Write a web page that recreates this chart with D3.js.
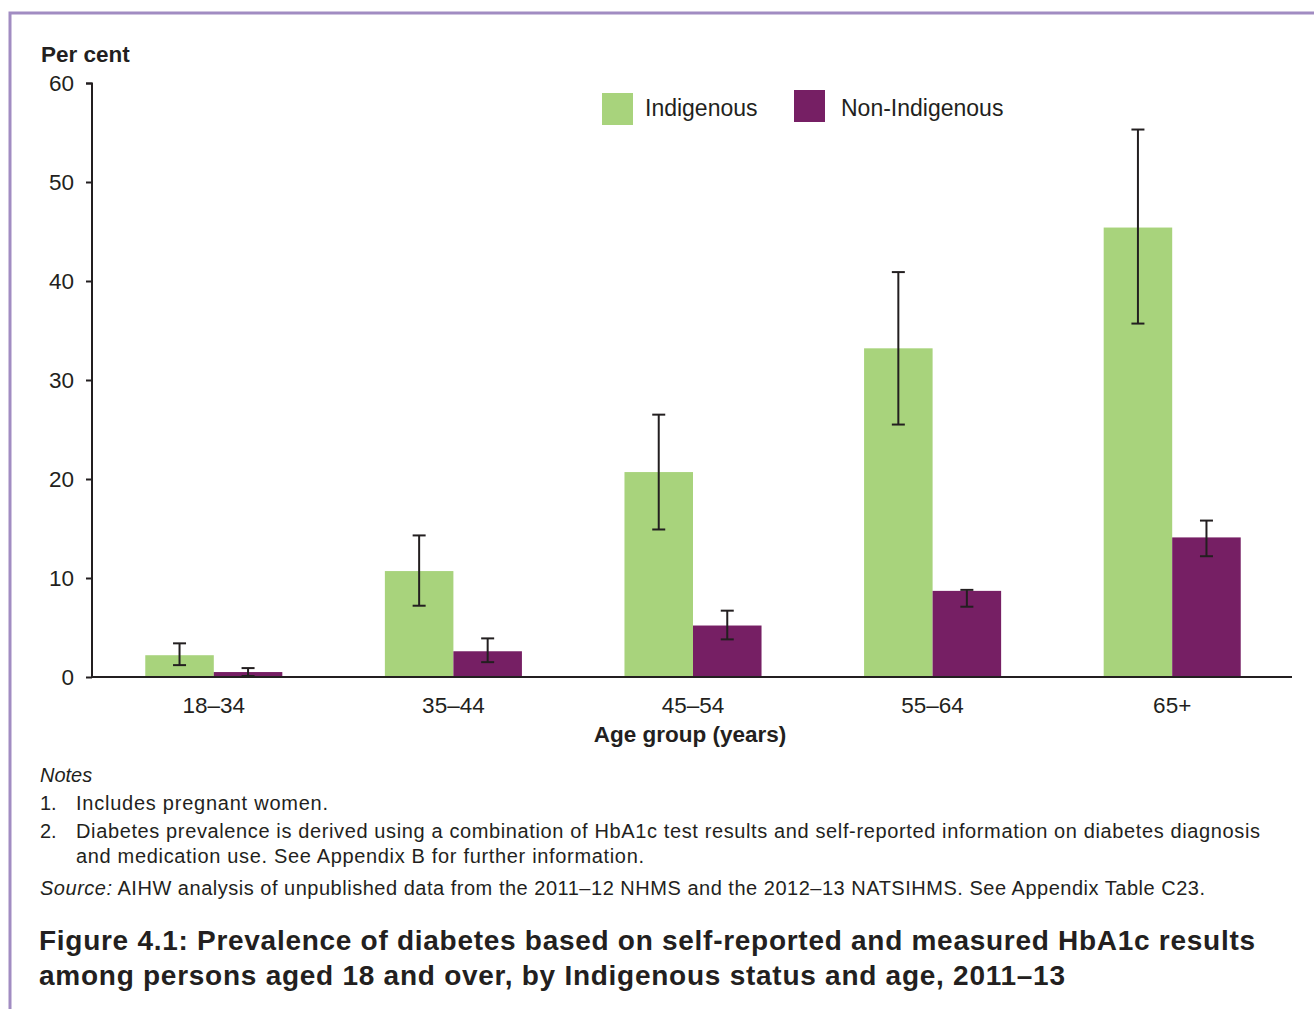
<!DOCTYPE html>
<html>
<head>
<meta charset="utf-8">
<script src="https://cdn.jsdelivr.net/npm/d3@7"></script>
<style>
  body { margin: 0; background: #fff; }
  text { font-family: "Liberation Sans", Arial, sans-serif; fill: #231f20; }
</style>
</head>
<body>
<svg width="1314" height="1009"></svg>
<script>
// data
var ageGroups = ["18–34", "35–44", "45–54", "55–64", "65+"];
var seriesNames = ["Indigenous", "Non-Indigenous"];
var indigenous = [2.2, 10.7, 20.7, 33.2, 45.4];
var indigenousLow = [1.2, 7.2, 14.9, 25.5, 35.7];
var indigenousHigh = [3.4, 14.3, 26.5, 40.9, 55.3];
var nonIndigenous = [0.5, 2.6, 5.2, 8.7, 14.1];
var nonIndigenousLow = [0.1, 1.5, 3.8, 7.1, 12.2];
var nonIndigenousHigh = [0.9, 3.9, 6.7, 8.8, 15.8];
var yTicks = [0, 10, 20, 30, 40, 50, 60];
var colors = ["#a8d37c", "#761f64"];

var svg = d3.select("svg");

// frame
svg.append("path")
    .attr("d", "M10,1009 V13 H1314")
    .attr("fill", "none")
    .attr("stroke", "#a18cc2")
    .attr("stroke-width", 3);

var x0 = d3.scaleBand()
    .domain(ageGroups)
    .range([94, 1292])
    .paddingInner(0.428)
    .paddingOuter(0.214);

var x1 = d3.scaleBand()
    .domain(seriesNames)
    .range([0, x0.bandwidth()]);

var y = d3.scaleLinear()
    .domain([0, 60])
    .range([677, 83]);

var rows = ageGroups.map(function(g, i) {
    return [
        {group: g, name: seriesNames[0], value: indigenous[i], lo: indigenousLow[i], hi: indigenousHigh[i], color: colors[0]},
        {group: g, name: seriesNames[1], value: nonIndigenous[i], lo: nonIndigenousLow[i], hi: nonIndigenousHigh[i], color: colors[1]}
    ];
});
var flat = [].concat.apply([], rows);

// bars
svg.append("g")
    .selectAll("rect")
    .data(flat)
    .enter().append("rect")
    .attr("x", function(d) { return x0(d.group) + x1(d.name); })
    .attr("width", x1.bandwidth())
    .attr("y", function(d) { return y(d.value); })
    .attr("height", function(d) { return y(0) - y(d.value); })
    .attr("fill", function(d) { return d.color; });

// error bars
var err = svg.append("g")
    .attr("stroke", "#231f20")
    .attr("stroke-width", 2)
    .selectAll("g")
    .data(flat)
    .enter().append("g")
    .attr("transform", function(d) { return "translate(" + (x0(d.group) + x1(d.name) + x1.bandwidth() / 2) + ",0)"; });
err.append("line")
    .attr("y1", function(d) { return y(d.lo); })
    .attr("y2", function(d) { return y(d.hi); });
err.append("line")
    .attr("x1", -6.5).attr("x2", 6.5)
    .attr("y1", function(d) { return y(d.hi); })
    .attr("y2", function(d) { return y(d.hi); });
err.append("line")
    .attr("x1", -6.5).attr("x2", 6.5)
    .attr("y1", function(d) { return y(d.lo); })
    .attr("y2", function(d) { return y(d.lo); });

// y axis
var yAxis = svg.append("g")
    .attr("transform", "translate(92,0)")
    .call(d3.axisLeft(y).tickValues(yTicks).tickSize(6).tickPadding(12));
yAxis.select(".domain").attr("stroke", "#231f20").attr("stroke-width", 2).attr("d", "M-6,83.5H0V677");
yAxis.selectAll(".tick line").attr("stroke", "#231f20").attr("stroke-width", 2);
yAxis.selectAll(".tick text")
    .style("font-family", "Liberation Sans, Arial, sans-serif")
    .style("font-size", "22.5px")
    .attr("fill", "#231f20");

// x axis
var xAxis = svg.append("g")
    .attr("transform", "translate(0,677)")
    .call(d3.axisBottom(x0).tickSize(0).tickPadding(20));
xAxis.select(".domain").attr("stroke", "#231f20").attr("stroke-width", 2).attr("d", "M91,0H1292");
xAxis.selectAll(".tick text")
    .style("font-family", "Liberation Sans, Arial, sans-serif")
    .style("font-size", "22.5px")
    .attr("fill", "#231f20");

svg.append("text")
    .attr("x", 41).attr("y", 62)
    .style("font-size", "22.5px").style("font-weight", "bold")
    .text("Per cent");

svg.append("text")
    .attr("x", 690).attr("y", 742)
    .attr("text-anchor", "middle")
    .style("font-size", "22.5px").style("font-weight", "bold")
    .text("Age group (years)");

// legend
var legendPos = [{x: 602, y: 93, tx: 645}, {x: 794, y: 90, tx: 841}];
var legend = svg.append("g")
    .selectAll("g")
    .data(seriesNames)
    .enter().append("g");
legend.append("rect")
    .attr("x", function(d, i) { return legendPos[i].x; })
    .attr("y", function(d, i) { return legendPos[i].y; })
    .attr("width", 31).attr("height", 32)
    .attr("fill", function(d, i) { return colors[i]; });
legend.append("text")
    .attr("x", function(d, i) { return legendPos[i].tx; })
    .attr("y", 116)
    .style("font-size", "23px")
    .text(function(d) { return d; });

// notes
var notes = svg.append("g").style("font-size", "20px");
notes.append("text").attr("x", 40).attr("y", 782).style("font-style", "italic").text("Notes");
notes.append("text").attr("x", 40).attr("y", 810).text("1.");
notes.append("text").attr("x", 76).attr("y", 810).attr("textLength", 252).text("Includes pregnant women.");
notes.append("text").attr("x", 40).attr("y", 838).text("2.");
notes.append("text").attr("x", 76).attr("y", 838).attr("textLength", 1184)
    .text("Diabetes prevalence is derived using a combination of HbA1c test results and self-reported information on diabetes diagnosis");
notes.append("text").attr("x", 76).attr("y", 863).attr("textLength", 568)
    .text("and medication use. See Appendix B for further information.");
var src = notes.append("text").attr("x", 40).attr("y", 895).attr("textLength", 1165);
src.append("tspan").style("font-style", "italic").text("Source:");
src.append("tspan").text(" AIHW analysis of unpublished data from the 2011–12 NHMS and the 2012–13 NATSIHMS. See Appendix Table C23.");

// title
var title = svg.append("g").style("font-size", "28px").style("font-weight", "bold");
title.append("text").attr("x", 39).attr("y", 950).attr("textLength", 1216)
    .text("Figure 4.1: Prevalence of diabetes based on self-reported and measured HbA1c results");
title.append("text").attr("x", 39).attr("y", 985).attr("textLength", 1026)
    .text("among persons aged 18 and over, by Indigenous status and age, 2011–13");
</script>
</body>
</html>
